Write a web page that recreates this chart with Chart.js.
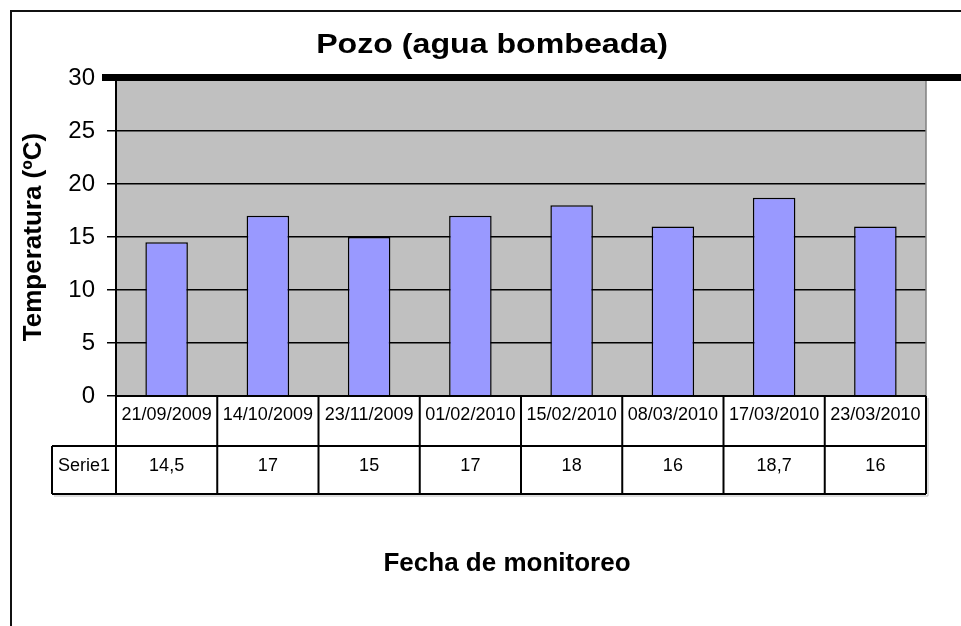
<!DOCTYPE html>
<html>
<head>
<meta charset="utf-8">
<script src="https://cdn.jsdelivr.net/npm/chart.js@4.4.1/dist/chart.umd.min.js"></script>
<style>
  html, body { margin: 0; padding: 0; background: #fff; }
  canvas { display: block; }
</style>
</head>
<body>
<canvas id="myChart" width="961" height="626"></canvas>
<script>
const fechas = ['21/09/2009', '14/10/2009', '23/11/2009', '01/02/2010', '15/02/2010', '08/03/2010', '17/03/2010', '23/03/2010'];
const temperaturas = [14.5, 17, 15, 17, 18, 16, 18.7, 16];
const nombreSerie = 'Serie1';
const yMin = 0;
const yMax = 30;
const yPaso = 5;

const fuente = "'Liberation Sans', Arial, sans-serif";

// fondo gris, marco, tabla de datos y titulos
const tablaDatos = {
    id: 'tablaDatos',
    beforeDraw(chart) {
        const { ctx, chartArea: a } = chart;
        ctx.save();
        ctx.fillStyle = '#ffffff';
        ctx.fillRect(0, 0, chart.width, chart.height);
        ctx.fillStyle = '#c0c0c0';
        ctx.fillRect(a.left, a.top, a.right - a.left, a.bottom - a.top);
        ctx.restore();
    },
    afterDraw(chart) {
        const { ctx, chartArea: a } = chart;
        const xs = chart.scales.x;
        const ys = chart.scales.y;
        ctx.save();

        // marco exterior
        ctx.strokeStyle = '#111';
        ctx.lineWidth = 2;
        ctx.strokeRect(11, 11, 1200, 1200);

        // borde derecho del area
        ctx.strokeStyle = '#808080';
        ctx.lineWidth = 1.5;
        ctx.beginPath();
        ctx.moveTo(a.right, a.top);
        ctx.lineTo(a.right, a.bottom);
        ctx.stroke();

        // linea gruesa en el maximo
        const yTop = ys.getPixelForValue(yMax);
        ctx.fillStyle = '#000';
        ctx.fillRect(102, yTop - 4, chart.width - 102, 7);

        // tabla
        const colW = (a.right - a.left) / fechas.length;
        const top = a.bottom;
        const mid = a.bottom + 50;
        const bot = a.bottom + 98;
        const izq = 52;

        ctx.strokeStyle = '#bbb';
        ctx.lineWidth = 1;
        ctx.beginPath();
        ctx.moveTo(izq + 2, bot + 2);
        ctx.lineTo(a.right + 2, bot + 2);
        ctx.lineTo(a.right + 2, top + 2);
        ctx.stroke();

        ctx.strokeStyle = '#000';
        ctx.lineWidth = 2;
        ctx.beginPath();
        ctx.moveTo(izq, mid); ctx.lineTo(a.right, mid);
        ctx.moveTo(izq, bot); ctx.lineTo(a.right, bot);
        ctx.moveTo(izq, mid); ctx.lineTo(izq, bot);
        ctx.moveTo(a.left, top); ctx.lineTo(a.right, top);
        fechas.forEach((f, i) => {
            const x0 = xs.getPixelForValue(i) - colW / 2;
            ctx.moveTo(x0, top); ctx.lineTo(x0, bot);
        });
        ctx.moveTo(a.right, top); ctx.lineTo(a.right, bot);
        ctx.stroke();

        ctx.fillStyle = '#000';
        ctx.font = '18px ' + fuente;
        ctx.textAlign = 'center';
        ctx.textBaseline = 'alphabetic';
        fechas.forEach((f, i) => {
            const x = xs.getPixelForValue(i);
            ctx.fillText(f, x, top + 24);
            ctx.fillText(String(temperaturas[i]).replace('.', ','), x, mid + 25);
        });
        ctx.fillText(nombreSerie, (izq + a.left) / 2, mid + 25);

        // titulo del eje x
        ctx.font = 'bold 26px ' + fuente;
        ctx.fillText('Fecha de monitoreo', 507, 571);

        // titulo principal
        ctx.translate(492, 53);
        ctx.scale(1.19, 1);
        ctx.font = 'bold 27px ' + fuente;
        ctx.fillText('Pozo (agua bombeada)', 0, 0);

        ctx.restore();
    }
};

const ctx = document.getElementById('myChart').getContext('2d');
const myChart = new Chart(ctx, {
    type: 'bar',
    data: {
        labels: fechas,
        datasets: [{
            label: nombreSerie,
            data: temperaturas,
            backgroundColor: '#9999ff',
            borderColor: '#000',
            borderWidth: 1.5,
            categoryPercentage: 1,
            barPercentage: 0.42
        }]
    },
    options: {
        responsive: false,
        animation: false,
        devicePixelRatio: 1,
        layout: {
            padding: { top: 78, right: 35, bottom: 230, left: 0 }
        },
        plugins: {
            legend: { display: false },
            tooltip: { enabled: false }
        },
        scales: {
            x: {
                display: false
            },
            y: {
                min: yMin,
                max: yMax,
                ticks: {
                    stepSize: yPaso,
                    color: '#000',
                    padding: 12,
                    font: { size: 24, family: fuente }
                },
                grid: {
                    color: '#000',
                    lineWidth: 1.5,
                    tickLength: 9,
                    tickColor: '#000',
                    tickWidth: 1.5
                },
                border: { display: true, color: '#000', width: 2 },
                title: {
                    display: true,
                    text: 'Temperatura (ºC)',
                    color: '#000',
                    font: { size: 26, weight: 'bold', family: fuente },
                    padding: { top: 18, bottom: 0 }
                },
                afterFit(scale) {
                    scale.width = 116;
                }
            }
        }
    },
    plugins: [tablaDatos]
});
</script>
</body>
</html>
